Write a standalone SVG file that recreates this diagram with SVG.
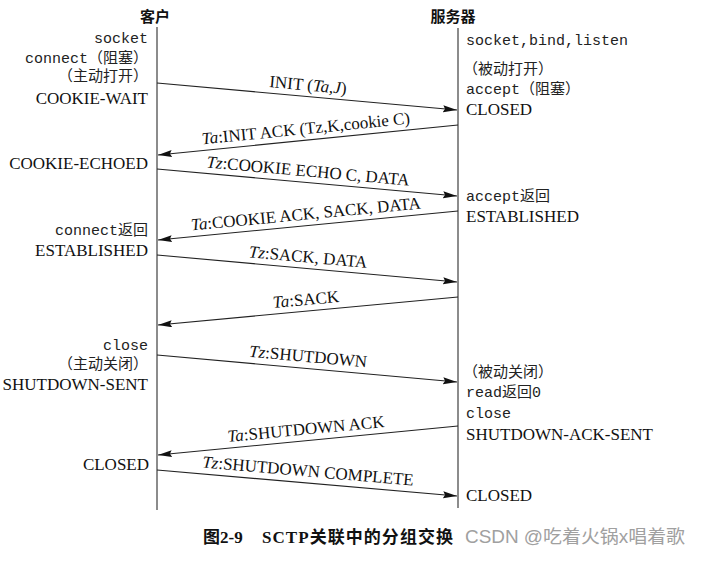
<svg xmlns="http://www.w3.org/2000/svg" width="701" height="561" viewBox="0 0 701 561">
<defs>
<marker id="ah" markerWidth="15" markerHeight="8" refX="14" refY="3.5" orient="auto" markerUnits="userSpaceOnUse">
<path d="M0,0 L14,3.5 L0,7 L2,3.5 Z" fill="#111"/>
</marker>
<style>
.life{stroke:#666;stroke-width:1.5;fill:none}
.msg{stroke:#222;stroke-width:1.1;fill:none;marker-end:url(#ah)}
.hdr{font-family:"Noto Sans CJK SC","Liberation Sans",sans-serif;font-size:15px;font-weight:bold;fill:#111;text-anchor:middle}
.st{font-family:"Liberation Serif","Noto Sans CJK SC",serif;font-size:17px;fill:#111}
.mono{font-family:"Liberation Mono","Noto Sans CJK SC",monospace;font-size:15px;fill:#222}
.lbl{font-family:"Liberation Serif","Noto Sans CJK SC",serif;font-size:17px;fill:#111;text-anchor:middle}
.it{font-style:italic}
.end{text-anchor:end}
.cap{font-family:"Liberation Serif","Noto Sans CJK SC",serif;font-size:17px;font-weight:bold;fill:#111}
.wm{font-family:"Liberation Sans","Noto Sans CJK SC",sans-serif;font-size:18px;fill:#a0a0a0}
</style>
</defs>
<rect width="701" height="561" fill="#fff"/>

<g id="client">
<text class="hdr" x="155" y="22">客户</text>
<line class="life" x1="157" y1="27" x2="157" y2="510"/>
<text class="mono end" x="148" y="43">socket</text>
<text class="mono end" x="148" y="63">connect（阻塞）</text>
<text class="mono end" x="148" y="81">（主动打开）</text>
<text class="st end" x="148" y="104">COOKIE-WAIT</text>
<text class="st end" x="148" y="169">COOKIE-ECHOED</text>
<text class="mono end" x="148" y="235">connect返回</text>
<text class="st end" x="148" y="256">ESTABLISHED</text>
<text class="mono end" x="148" y="350">close</text>
<text class="mono end" x="148" y="369">（主动关闭）</text>
<text class="st end" x="148" y="390">SHUTDOWN-SENT</text>
<text class="st end" x="149" y="470">CLOSED</text>
</g>

<g id="server">
<text class="hdr" x="453" y="22">服务器</text>
<line class="life" x1="458" y1="28" x2="458" y2="508"/>
<text class="mono" x="466" y="45">socket,bind,listen</text>
<text class="mono" x="463" y="74">（被动打开）</text>
<text class="mono" x="466" y="94">accept（阻塞）</text>
<text class="st" x="466" y="115">CLOSED</text>
<text class="mono" x="466" y="201">accept返回</text>
<text class="st" x="466" y="222">ESTABLISHED</text>
<text class="mono" x="463" y="377">（被动关闭）</text>
<text class="mono" x="466" y="397">read返回0</text>
<text class="mono" x="466" y="418">close</text>
<text class="st" x="466" y="440">SHUTDOWN-ACK-SENT</text>
<text class="st" x="466" y="501">CLOSED</text>
</g>

<g id="connectors">
<line class="msg" x1="157" y1="83" x2="457" y2="110"/>
<text class="lbl" x="307" y="90.5" transform="rotate(5.13 307 96.5)">INIT (<tspan class="it">Ta,J</tspan>)</text>

<line class="msg" x1="458" y1="125" x2="158" y2="155"/>
<text class="lbl" x="307" y="134" transform="rotate(-5.69 307 140)"><tspan class="it">Ta</tspan>:INIT ACK (Tz,K,cookie C)</text>

<line class="msg" x1="157" y1="169" x2="457" y2="196"/>
<text class="lbl" x="307" y="176.5" transform="rotate(5.13 307 182.5)"><tspan class="it">Tz</tspan>:COOKIE ECHO C, DATA</text>

<line class="msg" x1="458" y1="211" x2="158" y2="240"/>
<text class="lbl" x="307" y="219.5" transform="rotate(-5.5 307 225.5)"><tspan class="it">Ta</tspan>:COOKIE ACK, SACK, DATA</text>

<line class="msg" x1="157" y1="255" x2="457" y2="282"/>
<text class="lbl" x="307" y="262.5" transform="rotate(5.13 307 268.5)"><tspan class="it">Tz</tspan>:SACK, DATA</text>

<line class="msg" x1="458" y1="297" x2="158" y2="325"/>
<text class="lbl" x="307" y="305" transform="rotate(-5.31 307 311)"><tspan class="it">Ta</tspan>:SACK</text>

<line class="msg" x1="157" y1="355" x2="457" y2="382"/>
<text class="lbl" x="307" y="362" transform="rotate(5.13 307 368.5)"><tspan class="it">Tz</tspan>:SHUTDOWN</text>

<line class="msg" x1="458" y1="426" x2="158" y2="455"/>
<text class="lbl" x="307" y="434.5" transform="rotate(-5.5 307 440.5)"><tspan class="it">Ta</tspan>:SHUTDOWN ACK</text>

<line class="msg" x1="157" y1="470" x2="457" y2="496"/>
<text class="lbl" x="307" y="476.5" transform="rotate(4.94 307 483)"><tspan class="it">Tz</tspan>:SHUTDOWN COMPLETE</text>
</g>

<g id="caption">
<text class="cap" x="203" y="543">图2-9</text>
<text class="cap" x="262" y="543" textLength="191" lengthAdjust="spacing">SCTP关联中的分组交换</text>
<text class="wm" x="465" y="543" textLength="220" lengthAdjust="spacingAndGlyphs">CSDN @吃着火锅x唱着歌</text>
</g>
</svg>
